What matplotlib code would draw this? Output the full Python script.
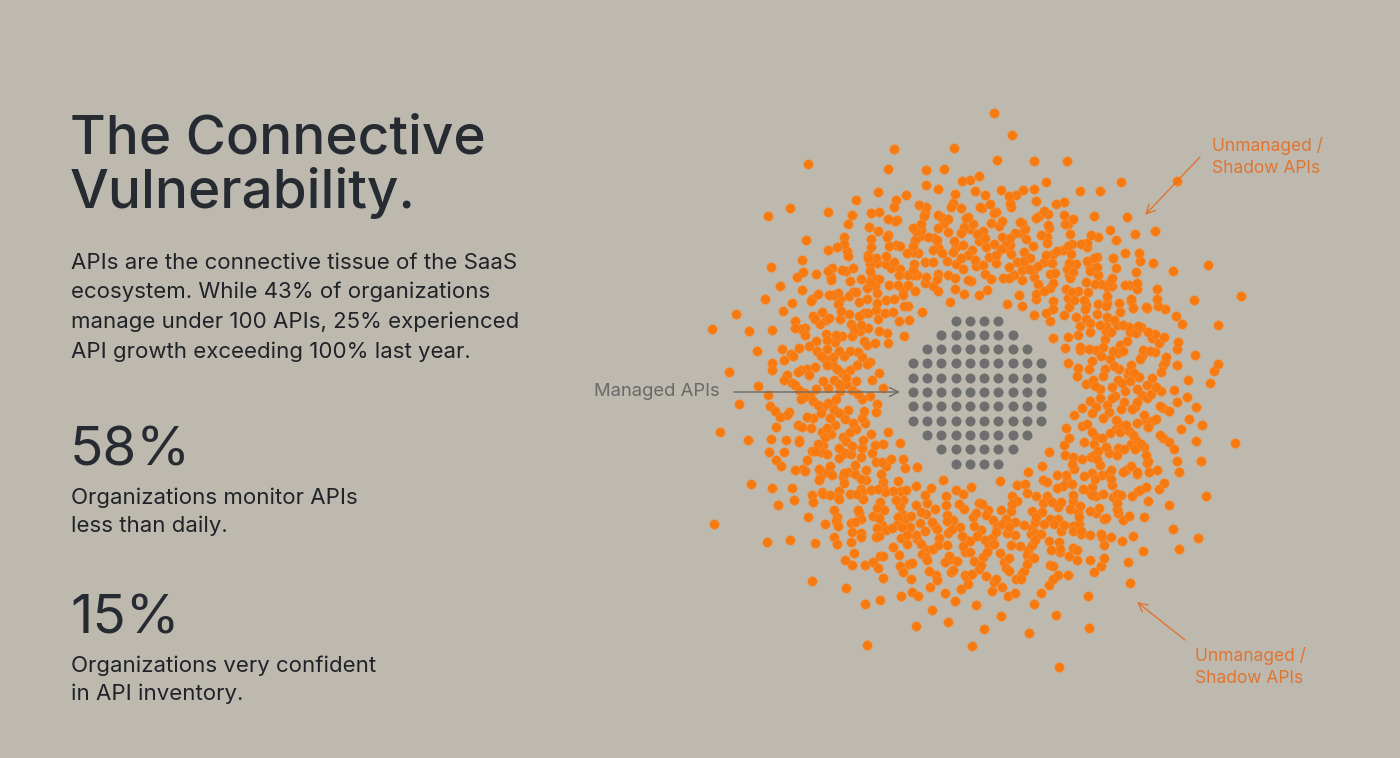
import numpy as np
import matplotlib.pyplot as plt

plt.rcParams['font.family'] = ['Inter', 'DejaVu Sans']

# managed APIs: dots per row of the grey grid (top to bottom)
managed_rows = [4, 6, 8, 10, 10, 10, 10, 10, 8, 6, 4]

# unmanaged APIs: ring bands (inner radius, outer radius, dot count), radius in px from centre
band_inner = [92, 112, 132, 152, 172, 192, 214, 240, 265]
band_outer = [112, 132, 152, 172, 192, 214, 240, 265, 295]
band_count = [65, 145, 210, 225, 205, 140, 58, 25, 10]

title_lines = ["The Connective", "Vulnerability."]
intro_lines = ["APIs are the connective tissue of the SaaS",
               "ecosystem. While 43% of organizations",
               "manage under 100 APIs, 25% experienced",
               "API growth exceeding 100% last year."]
stat_values = ["58%", "15%"]
stat_labels = [["Organizations monitor APIs", "less than daily."],
               ["Organizations very confident", "in API inventory."]]

W, H = 1400, 758
bg = '#BEB9AF'
dark = '#262B31'
orange = '#F67A10'
grey = '#6E6E6E'

fig = plt.figure(figsize=(W / 100, H / 100), dpi=100, facecolor=bg)

def ftext(x, y, s, **kw):
    fig.text(x / W, 1 - y / H, s, va='baseline', ha='left', **kw)

# left column text
for i, line in enumerate(title_lines):
    ftext(70, 153 + i * 55, line, fontsize=39.5, color=dark, weight='medium')
for i, line in enumerate(intro_lines):
    ftext(71, 269 + i * 29.5, line, fontsize=16, color='#1F2328')
stat_y = [465, 633]
for v, labels, y in zip(stat_values, stat_labels, stat_y):
    ftext(70, y, v, fontsize=39.5, color=dark)
    for j, line in enumerate(labels):
        ftext(71, y + 39 + j * 28.5, line, fontsize=16, color='#1F2328')

# ring axes: data units are pixels around the centre of the grid
cx, cy, half = 977, 392, 300
ax = fig.add_axes([(cx - half) / W, (H - cy - half) / H, 2 * half / W, 2 * half / H])
ax.set_xlim(-half, half)
ax.set_ylim(-half, half)
ax.axis('off')

def halton(i, b):
    f, r = 1.0, 0.0
    while i > 0:
        f /= b
        r += f * (i % b)
        i //= b
    return r

# unmanaged dots, spread evenly in each band with a Halton sequence
xs, ys = [], []
k = 7
for r0, r1, n in zip(band_inner, band_outer, band_count):
    for i in range(n):
        k += 1
        u = halton(k, 2)
        t = halton(k, 3)
        r = np.sqrt(r0 ** 2 + u * (r1 ** 2 - r0 ** 2))
        th = 2 * np.pi * t
        xs.append(r * np.cos(th))
        ys.append(r * np.sin(th))
ax.scatter(xs, ys, s=47, color=orange, edgecolors='#F8913A', linewidths=0.4, zorder=2)

# managed grid
sp = 14.3
gx, gy = [], []
nrows = len(managed_rows)
for ri, n in enumerate(managed_rows):
    y = ((nrows - 1) / 2 - ri) * sp
    for ci in range(n):
        gx.append((ci - (n - 1) / 2) * sp)
        gy.append(y)
ax.scatter(gx, gy, s=52, color=grey, linewidths=0, zorder=3)

# labels
ax.annotate("Managed APIs", xy=(-77, 0), xytext=(-257, 0), ha='right', va='center',
            fontsize=13.3, color='#6A6A6A', annotation_clip=False,
            arrowprops=dict(arrowstyle='->', color='#6A6A6A', lw=1,
                            shrinkA=8, shrinkB=0, mutation_scale=16), zorder=4)
ax.annotate("", xy=(168, 177), xytext=(223, 235), annotation_clip=False,
            arrowprops=dict(arrowstyle='->', color='#E07530', lw=1,
                            shrinkA=0, shrinkB=0, mutation_scale=16))
ax.text(235, 235, "Unmanaged /\nShadow APIs", ha='left', va='center', fontsize=12.5,
        color='#E07530', linespacing=1.35)
ax.annotate("", xy=(160, -210), xytext=(208, -248), annotation_clip=False,
            arrowprops=dict(arrowstyle='->', color='#E07530', lw=1,
                            shrinkA=0, shrinkB=0, mutation_scale=16))
ax.text(218, -275, "Unmanaged /\nShadow APIs", ha='left', va='center', fontsize=12.5,
        color='#E07530', linespacing=1.35)

fig.savefig('out.png', dpi=100, facecolor=bg)
